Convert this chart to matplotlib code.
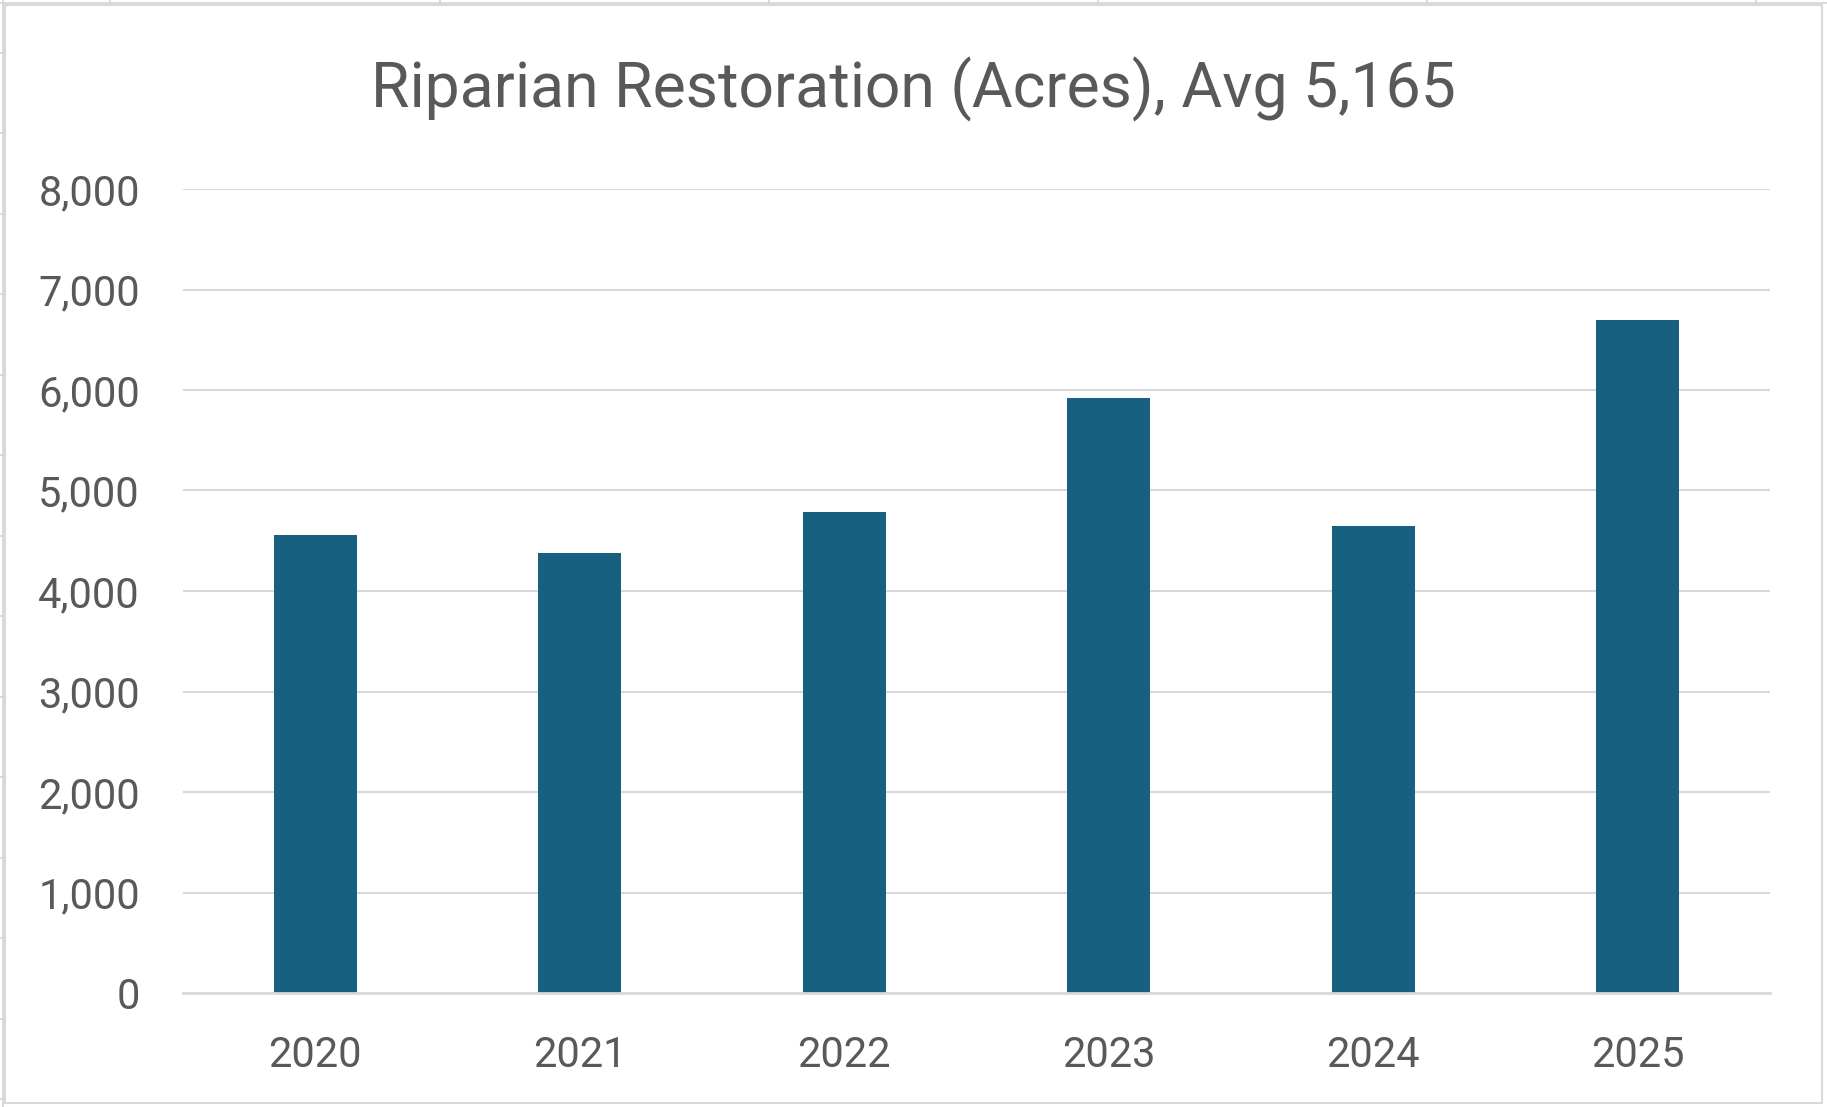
import matplotlib
matplotlib.use("Agg")
import matplotlib.pyplot as plt
from matplotlib.patches import Rectangle
from matplotlib.lines import Line2D
from matplotlib.ticker import FuncFormatter

# Riparian restoration by year (acres)
years = ["2020", "2021", "2022", "2023", "2024", "2025"]
acres = [4555, 4375, 4785, 5925, 4650, 6700]
avg_acres = 5165
y_ticks = [0, 1000, 2000, 3000, 4000, 5000, 6000, 7000, 8000]

# Worksheet grid peeking around the chart frame (pixel positions)
sheet_cols = [110, 440, 769, 1098, 1427, 1756]
sheet_rows = [53, 133, 214, 294, 375, 455, 536, 616, 697, 777, 858, 938, 1019, 1099]

W, H = 1827, 1107
DPI = 100
TEXT = "#595959"
GRID = "#d9d9d9"
BAR = "#17607f"

plt.rcParams["font.family"] = ["Roboto", "DejaVu Sans"]

fig = plt.figure(figsize=(W / DPI, H / DPI), dpi=DPI)
fig.patch.set_facecolor("white")


def fx(px):
    return px / W


def fy(py):
    return 1 - py / H


# worksheet gridlines outside the chart frame
sheet_color = "#d4d4d4"
fig.add_artist(Line2D([0, 1], [fy(2.5), fy(2.5)], color=sheet_color, lw=1.2, zorder=-3))
fig.add_artist(Line2D([fx(2.5), fx(2.5)], [0, 1], color=sheet_color, lw=1.2, zorder=-3))
for c in sheet_cols:
    fig.add_artist(Line2D([fx(c), fx(c)], [fy(0), fy(5)], color=sheet_color, lw=1.2, zorder=-3))
for r in sheet_rows:
    fig.add_artist(Line2D([fx(0), fx(5)], [fy(r), fy(r)], color=sheet_color, lw=1.2, zorder=-3))

# chart frame
fig.add_artist(Rectangle((fx(5), fy(1103)), fx(1822) - fx(5), fy(5) - fy(1103),
                         facecolor="white", edgecolor=GRID, lw=1.5,
                         transform=fig.transFigure, zorder=-2))

ax = fig.add_axes([183 / W, 1 - 993 / H, (1770 - 183) / W, (993 - 189) / H])
ax.set_facecolor("none")

x = list(range(len(years)))
ax.bar(x, acres, width=0.315, color=BAR, zorder=3)

ax.set_xlim(-0.5, len(years) - 0.5)
ax.set_ylim(0, 8000)
ax.set_yticks(y_ticks)
ax.yaxis.set_major_formatter(FuncFormatter(lambda v, p: f"{int(v):,}"))
ax.set_xticks(x)
ax.set_xticklabels(years)

ax.grid(axis="y", color=GRID, lw=1.5, zorder=0)
ax.grid(axis="x", visible=False)
ax.set_axisbelow(True)
for side in ["top", "right", "left"]:
    ax.spines[side].set_visible(False)
ax.spines["bottom"].set_color(GRID)
ax.spines["bottom"].set_linewidth(2.0)
ax.spines["bottom"].set_zorder(4)

ax.tick_params(axis="y", length=0, pad=31, labelsize=30, labelcolor=TEXT)
ax.tick_params(axis="x", length=0, pad=30, labelsize=30, labelcolor=TEXT)

fig.text(0.5, fy(107), f"Riparian Restoration (Acres), Avg {avg_acres:,}",
         ha="center", va="baseline", fontsize=45, color=TEXT)

fig.savefig("out.png", dpi=DPI)
